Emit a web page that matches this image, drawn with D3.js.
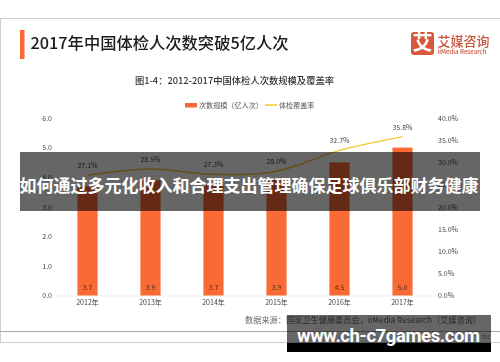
<!DOCTYPE html>
<html><head><meta charset="utf-8">
<script src="https://cdnjs.cloudflare.com/ajax/libs/d3/7.8.5/d3.min.js"></script>
<style>html,body{margin:0;padding:0;background:#fff}svg{display:block;font-family:"Noto Sans CJK SC","Noto Sans",sans-serif}
.blur{filter:blur(.35px)}</style></head><body><svg id="c" width="500" height="362"></svg>
<script>
const years=["2012年","2013年","2014年","2015年","2016年","2017年"];
const visits=[3.7,3.9,3.7,3.9,4.5,5.0];
const coverage=[27.1,28.5,27.3,28.0,32.7,35.8];
const leftTicks=[0,1,2,3,4,5,6];
const rightTicks=[0,5,10,15,20,25,30,35,40];
const svg=d3.select("#c");
const x=d3.scaleBand().domain(years).range([56,434]).paddingInner(0.68).paddingOuter(0.34);
const yL=d3.scaleLinear().domain([0,6]).range([295.5,118]);
const yR=d3.scaleLinear().domain([0,40]).range([295.5,118]);
const g=svg.append("g").attr("class","blur");
const T=(s,px,py,fs,fill,anchor="middle",w=400,par=g)=>par.append("text").attr("x",px).attr("y",py).attr("font-size",fs).attr("fill",fill).attr("text-anchor",anchor).attr("font-weight",w).text(s);
// frame
g.append("line").attr("x1",0).attr("x2",500).attr("y1",18.5).attr("y2",18.5).attr("stroke","#cfcfcf");
g.append("line").attr("x1",0.5).attr("x2",0.5).attr("y1",18).attr("y2",342).attr("stroke","#cfcfcf");
g.append("line").attr("x1",0).attr("x2",500).attr("y1",331.5).attr("y2",331.5).attr("stroke","#a9a9a9");
g.append("line").attr("x1",0).attr("x2",500).attr("y1",342.5).attr("y2",342.5).attr("stroke","#cfcfcf");
// header
g.append("rect").attr("x",20).attr("y",30).attr("width",4.5).attr("height",29).attr("fill","#f96a35");
T("2017年中国体检人次数突破5亿人次",30.5,48.5,16.3,"#1c1c1c","start",500);
T("图1-4：2012-2017中国体检人次数规模及覆盖率",234.5,83.5,9.3,"#333","middle",500);
// logo
g.append("rect").attr("x",411).attr("y",32).attr("width",23).attr("height",23).attr("rx",3).attr("fill","#d9583b");
T("艾",422.5,50,20,"#fff","middle",700);
T("艾媒咨询",437.5,46,13,"#c9563c","start",500);
T("iiMedia Research",437.5,53.5,6.1,"#c9563c","start",500);
// legend
g.append("rect").attr("x",185).attr("y",103).attr("width",12).attr("height",4.5).attr("fill","#f96a35");
T("次数规模（亿人次）",199,107.5,7.1,"#555","start");
g.append("line").attr("x1",265).attr("x2",277).attr("y1",105).attr("y2",105).attr("stroke","#f9c62e").attr("stroke-width",1.5);
T("体检覆盖率",279,107.5,7.1,"#555","start");
// axes
const axL=g.append("g").attr("transform","translate(52,0)").call(d3.axisLeft(yL).tickValues(leftTicks).tickSize(0).tickPadding(0).tickFormat(d3.format(".1f")));
const axR=g.append("g").attr("transform","translate(438,0)").call(d3.axisRight(yR).tickValues(rightTicks).tickSize(0).tickPadding(0).tickFormat(d=>d.toFixed(1)+"%"));
const axB=g.append("g").attr("transform","translate(0,295.5)").call(d3.axisBottom(x).tickSize(0).tickPadding(4.5));
[axL,axR,axB].forEach(a=>{a.selectAll("text").attr("font-size",7).attr("fill","#444").attr("font-family",'"Noto Sans CJK SC"');});
axL.select(".domain").remove();axR.select(".domain").remove();
axB.select(".domain").attr("stroke","#eeeeee");
// bars
g.selectAll(".bar").data(visits).join("rect").attr("class","bar")
 .attr("x",(d,i)=>x(years[i])).attr("width",x.bandwidth())
 .attr("y",d=>yL(d)).attr("height",d=>yL(0)-yL(d)).attr("fill","#f96a35");
g.selectAll(".vl").data(visits).join("text").attr("class","vl")
 .attr("x",(d,i)=>x(years[i])+x.bandwidth()/2).attr("y",yL(0)-5.5)
 .attr("text-anchor","middle").attr("font-size",7).attr("fill","#5a2c18").text(d=>d.toFixed(1));
// line
const line=d3.line().x((d,i)=>x(years[i])+x.bandwidth()/2).y(d=>yR(d)).curve(d3.curveCatmullRom.alpha(0.5));
g.append("path").datum(coverage).attr("d",line).attr("fill","none").attr("stroke","#f9c62e").attr("stroke-width",1.5);
g.selectAll(".cl").data(coverage).join("text").attr("class","cl")
 .attr("x",(d,i)=>x(years[i])+x.bandwidth()/2).attr("y",d=>yR(d)-7)
 .attr("text-anchor","middle").attr("font-size",7).attr("fill","#444").text(d=>d.toFixed(1)+"%");
// source
T("数据来源：国家卫生健康委员会，iiMedia Research（艾媒咨询）",245,323,8.2,"#666","start");
T("Inc",482,339,6,"#888","start");
// overlays
svg.append("rect").attr("x",20).attr("y",152).attr("width",460).attr("height",59).attr("fill","#000").attr("fill-opacity",0.6);
svg.append("text").attr("x",249).attr("y",192).attr("text-anchor","middle").attr("font-size",17).attr("font-weight",700).attr("fill","#fff").text("如何通过多元化收入和合理支出管理确保足球俱乐部财务健康");
svg.append("rect").attr("x",287).attr("y",315).attr("width",204).attr("height",28).attr("fill","#000").attr("fill-opacity",0.6);
svg.append("rect").attr("x",287).attr("y",343).attr("width",204).attr("height",9).attr("fill","#000");
svg.append("text").attr("x",297).attr("y",341.5).attr("font-size",18.5).attr("font-weight",700).attr("fill","#fff").attr("font-family","Roboto").attr("textLength",183).attr("lengthAdjust","spacing").text("www.ch-c7games.com");
</script></body></html>
